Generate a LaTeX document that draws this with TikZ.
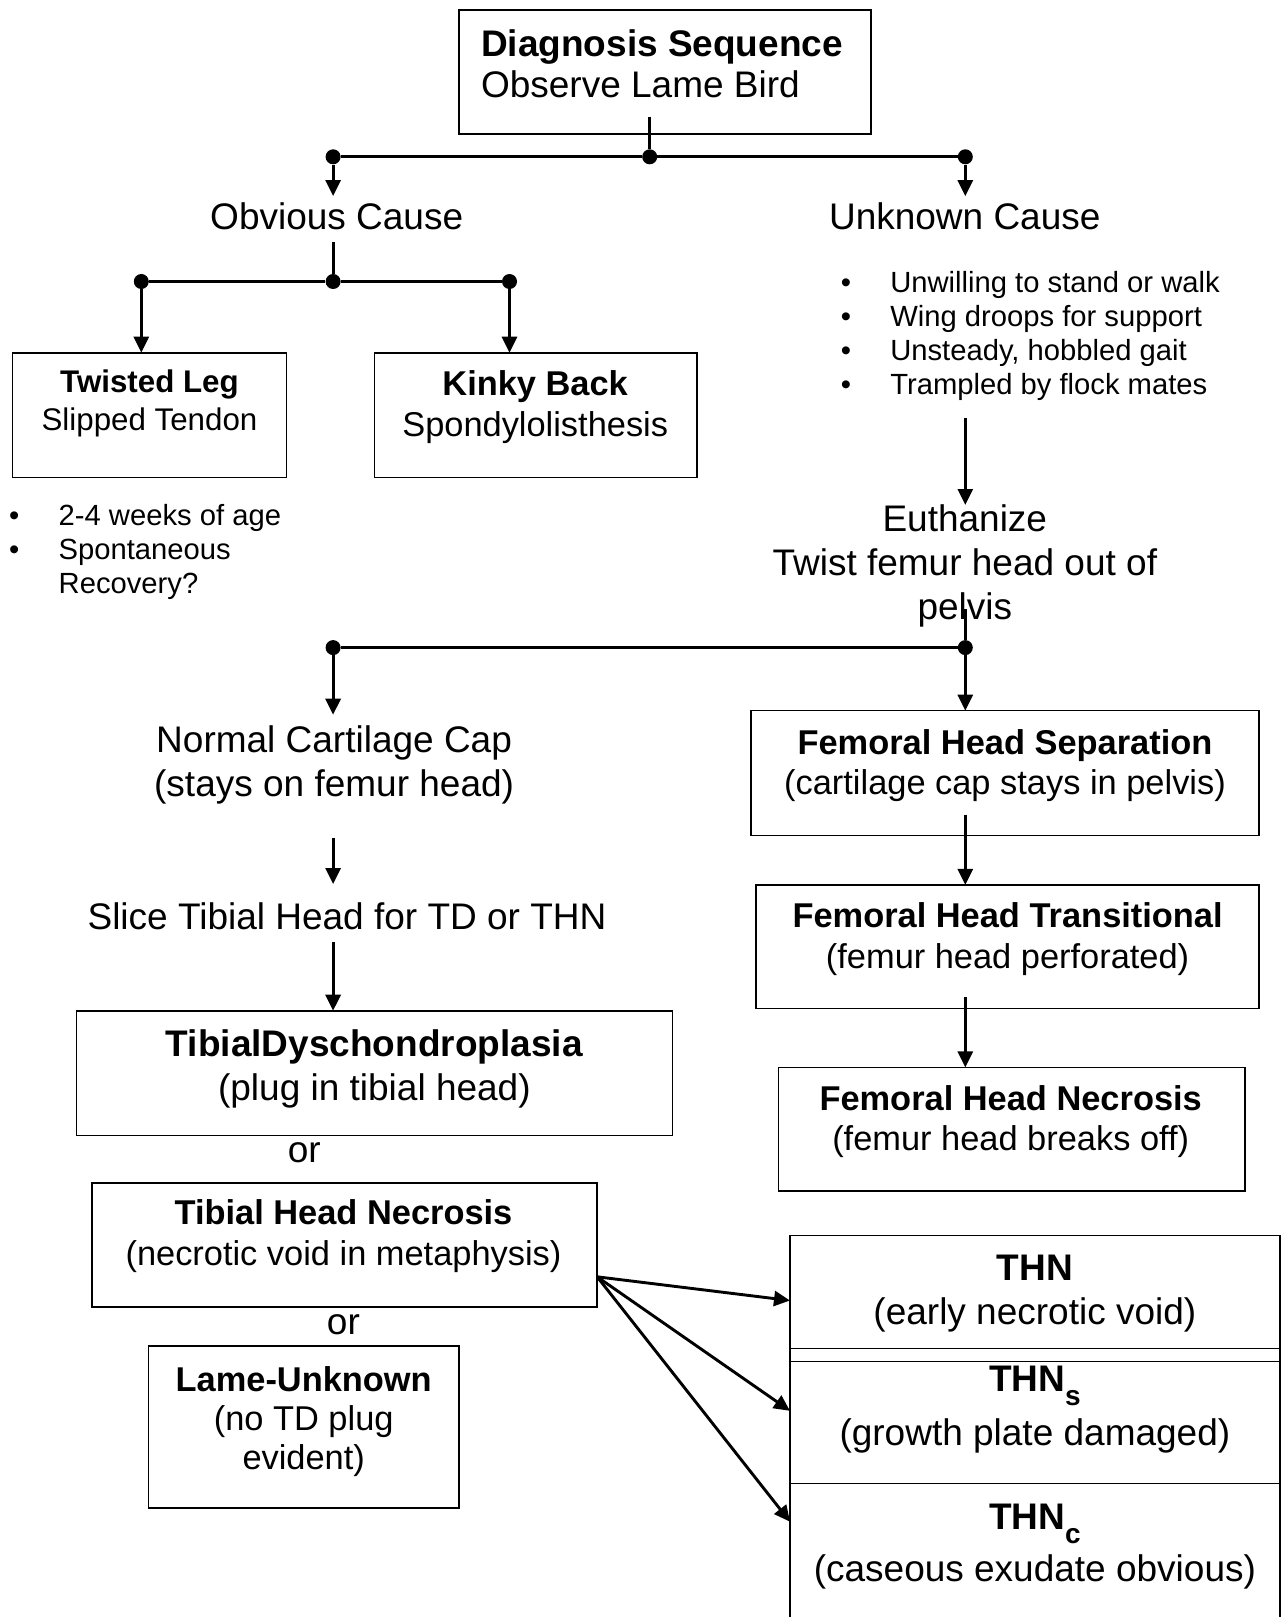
\documentclass[tikz,border=0pt]{standalone}
\usepackage{fontspec}
\setmainfont{Liberation Sans}
\usetikzlibrary{arrows.meta}
\tikzset{
	box/.style={
		draw,
		line width = 1.6pt,
		inner sep = 0pt,
		outer sep = 0pt
	},
	txt/.style={
		inner sep = 0pt,
		outer sep = 0pt
	},
	big/.style={font=\fontsize{37}{44}\selectfont},
	mid/.style={font=\fontsize{34.4}{40.3}\selectfont},
	sml/.style={font=\fontsize{31.3}{38}\selectfont},
	bul/.style={
		font=\fontsize{29.2}{34}\selectfont,
		align=left,
		anchor=north west,
		inner sep = 0pt
	},
	jn/.style={
		shape = circle,
		fill,
		inner sep = 0pt,
		minimum size = 15pt
	},
	link/.style={line width = 2.9pt},
	arr/.style={line width = 2.9pt, -{Triangle[length=16pt, width=15pt]}},
}
\newcommand{\thnsub}[1]{\raisebox{-14pt}{\fontsize{28}{28}\selectfont #1}}
\newcommand{\bitem}{\makebox[49.5pt][l]{\textbullet}}

\begin{document}
\begin{tikzpicture}[x=1pt, y=-1pt]
    \clip (0,0) rectangle (1286,1617);
    \node[box, minimum width=412pt, minimum height=124pt] (diag) at (665,72.2) {};
    \node[box, minimum width=274.3pt, minimum height=124.8pt] (tl) at (149.5,415.1) {};
    \node[box, minimum width=322.8pt, minimum height=124.8pt] (kb) at (535.8,415.1) {};
    \node[box, minimum width=596.1pt, minimum height=124.8pt] (td) at (374.4,1073.1) {};
    \node[box, minimum width=505.3pt, minimum height=123.8pt] (thn) at (344.5,1244.8) {};
    \node[box, minimum width=310.4pt, minimum height=162pt] (lu) at (303.7,1426.8) {};
    \node[box, minimum width=508.4pt, minimum height=124.8pt] (fhs) at (1005,773) {};
    \node[box, minimum width=503.3pt, minimum height=123.7pt] (fht) at (1007.6,946.7) {};
    \node[box, minimum width=466.2pt, minimum height=123.8pt] (fhn) at (1011.7,1129.3) {};
    \node[box, minimum width=489.8pt, minimum height=126pt] (ta) at (1034.9,1298.5) {};
    \node[box, minimum width=489.8pt, minimum height=135pt] (tb) at (1034.9,1415.8) {};
    \node[box, minimum width=489.8pt, minimum height=156.7pt] (tc) at (1034.9,1561.7) {};

    \node[txt, align=left, anchor=north, font=\fontsize{37}{41.3}\selectfont] (diagt) at ([xshift=-3pt, yshift=-19.3pt]diag.north) {\textbf{Diagnosis Sequence}\\Observe Lame Bird};
    \node[txt, sml, align=center, anchor=north] (tlt) at ([yshift=-17.4pt]tl.north) {\textbf{Twisted Leg}\\Slipped Tendon};
    \node[txt, mid, align=center, anchor=north] (kbt) at ([xshift=-0.6pt, yshift=-18.2pt]kb.north) {\textbf{Kinky Back}\\Spondylolisthesis};
    \node[txt, big, align=center, anchor=north] (tdt) at ([yshift=-19.3pt]td.north) {\textbf{TibialDyschondroplasia}\\(plug in tibial head)};
    \node[txt, mid, align=center, anchor=north] (thnt) at ([xshift=-1pt, yshift=-17.1pt]thn.north) {\textbf{Tibial Head Necrosis}\\(necrotic void in metaphysis)};
    \node[txt, align=center, anchor=north, font=\fontsize{34.4}{39.3}\selectfont] (lut) at ([yshift=-20.4pt]lu.north) {\textbf{Lame-Unknown}\\(no TD plug\\evident)};
    \node[txt, mid, align=center, anchor=north] (fhst) at ([yshift=-19.1pt]fhs.north) {\textbf{Femoral Head Separation}\\(cartilage cap stays in pelvis)};
    \node[txt, mid, align=center, anchor=north] (fhtt) at ([yshift=-18.1pt]fht.north) {\textbf{Femoral Head Transitional}\\(femur head perforated)};
    \node[txt, mid, align=center, anchor=north] (fhnt) at ([xshift=-1pt, yshift=-18.1pt]fhn.north) {\textbf{Femoral Head Necrosis}\\(femur head breaks off)};
    \node[txt, big, align=center, anchor=north] (tat) at ([yshift=-19.3pt]ta.north) {\textbf{THN}\\(early necrotic void)};
    \node[txt, big, align=center, anchor=north] (tbt) at ([yshift=-17.9pt]tb.north) {\textbf{THN\thnsub{s}}\\[9.6pt](growth plate damaged)};
    \node[txt, big, align=center, anchor=north] (tct) at ([yshift=-21.1pt]tc.north) {\textbf{THN\thnsub{c}}\\[7.5pt](caseous exudate obvious)};

    \node[txt, big, anchor=base] (oc) at (336.7,229.9) {Obvious Cause};
    \node[txt, big, anchor=base] (uc) at (964.8,229.9) {Unknown Cause};
    \node[bul] (tlb) at (9,503.8) {\bitem 2-4 weeks of age\\\bitem Spontaneous\\\hspace*{49.5pt}Recovery?};
    \node[bul] (ucb) at (840.6,270.7) {\bitem Unwilling to stand or walk\\\bitem Wing droops for support\\\bitem Unsteady, hobbled gait\\\bitem Trampled by flock mates};
    \node[txt, big, align=center, anchor=north] (eu) at (964.8,505) {Euthanize\\Twist femur head out of\\pelvis};
    \node[txt, big, align=center, anchor=north] (nc) at (334.1,725.7) {Normal Cartilage Cap\\(stays on femur head)};
    \node[txt, big, anchor=base] (sl) at (347,929.1) {Slice Tibial Head for TD or THN};
    \node[txt, big, anchor=base] (or1) at (304.2,1162) {or};
    \node[txt, big, anchor=base] (or2) at (343.4,1334) {or};

    \node[jn] (jl) at (333.1,156.8) {};
    \node[jn] (jm) at (649.7,156.8) {};
    \node[jn] (jr) at (965.3,156.8) {};
    \node[jn] (jl2) at (141.3,281.5) {};
    \node[jn] (jm2) at (333.1,281.5) {};
    \node[jn] (jr2) at (509.5,281.5) {};
    \node[jn] (jl3) at (333.1,647.6) {};
    \node[jn] (jr3) at (965.3,647.6) {};
    \coordinate (stem) at (649.7,116.5);
    \coordinate (fan) at ([yshift=-32pt]thn.east);

    \draw[link] (stem) -- (jm);
    \draw[link] (jl) -- (jm) -- (jr);
    \draw[arr, shorten >=7pt] (jl) -- (jl |- oc.north);
    \draw[arr, shorten >=7pt] (jr) -- (jr |- uc.north);
    \draw[link, shorten <=12pt] (jm2 |- oc.south) -- (jm2);
    \draw[link] (jl2) -- (jm2) -- (jr2);
    \draw[arr] (jl2) -- (jl2 |- tl.north);
    \draw[arr] (jr2) -- (jr2 |- kb.north);
    \draw[arr, shorten <=17.5pt] (jr |- ucb.south) -- (jr |- eu.north);
    \draw[link] ([yshift=18pt]jr3 |- eu.south) -- (jr3);
    \draw[link] (jl3) -- (jr3);
    \draw[arr, shorten >=11pt] (jl3) -- (jl3 |- nc.north);
    \draw[arr] (jr3) -- (jr3 |- fhs.north);
    \draw[arr, shorten <=33.5pt, shorten >=18.3pt] (jl3 |- nc.south) -- (jl3 |- sl.north);
    \draw[arr, shorten <=12.3pt] (jl3 |- sl.south) -- (jl3 |- td.north);
    \draw[arr, shorten <=-20.7pt] (jr3 |- fhs.south) -- (jr3 |- fht.north);
    \draw[arr, shorten <=-11.3pt] (jr3 |- fht.south) -- (jr3 |- fhn.north);
    \foreach \t/\s in {ta/-2, tb/5, tc/40}{
      \draw[arr] (fan) -- ([yshift=\s pt]\t.west);
    }
\end{tikzpicture}
\end{document}
